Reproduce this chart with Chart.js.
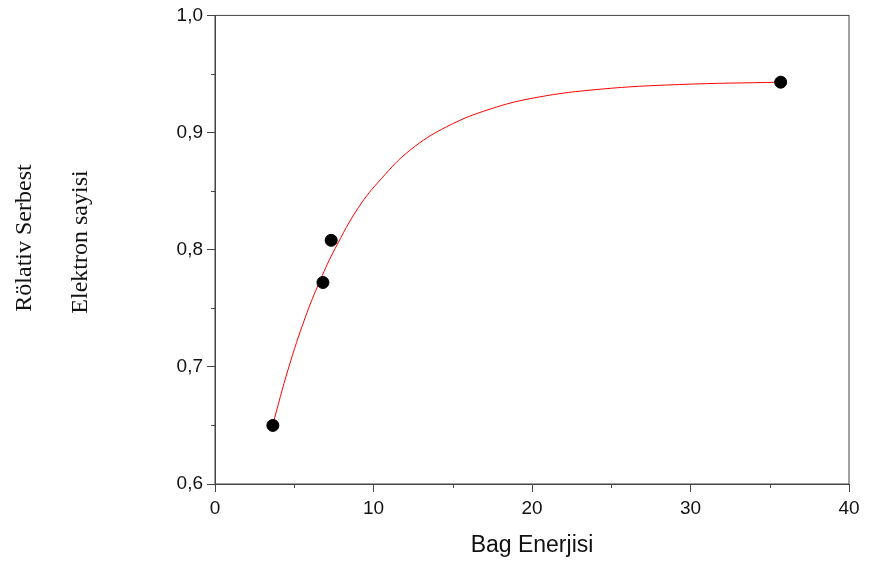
<!DOCTYPE html>
<html lang="tr">
<head>
  <meta charset="UTF-8" />
  <title>Bag Enerjisi</title>
  <script src="https://cdn.jsdelivr.net/npm/chart.js"></script>
  <style>
    body { margin: 0; background: #fff; }
    canvas { display: block; }
  </style>
</head>
<body>
  <canvas id="chart" width="869" height="570"></canvas>

  <script>
    // measured points
    const pointX = [3.65, 6.81, 7.33, 35.69];
    const pointY = [0.650, 0.772, 0.808, 0.943];

    // fitted curve
    const curveX = [3.63, 4.64, 5.69, 6.64, 7.58, 9.05, 10.52, 12.31, 14.62, 17.35, 20.3, 24.3, 29.3, 35.69];
    const curveY = [0.650, 0.699, 0.742, 0.774, 0.801, 0.836, 0.861, 0.885, 0.905, 0.920, 0.930, 0.937, 0.941, 0.943];

    const xTicks = [0, 10, 20, 30, 40];
    const xMinor = [5, 15, 25, 35];
    const yTicks = [0.6, 0.7, 0.8, 0.9, 1.0];
    const yMinor = [0.65, 0.75, 0.85, 0.95];

    const yTitle = ['Rölativ Serbest', 'Elektron sayisi'];
    const xTitle = 'Bag Enerjisi';

    const axisColor = '#444';

    const decor = {
      id: 'decor',
      afterDraw(chart) {
        const { ctx, chartArea: a, scales } = chart;
        ctx.save();
        ctx.strokeStyle = axisColor;
        ctx.lineWidth = 1;
        ctx.strokeRect(a.left, a.top, a.right - a.left, a.bottom - a.top);
        // minor ticks
        ctx.beginPath();
        xMinor.forEach(v => {
          const px = Math.round(scales.x.getPixelForValue(v)) + 0.5;
          ctx.moveTo(px, a.bottom);
          ctx.lineTo(px, a.bottom + 4);
        });
        yMinor.forEach(v => {
          const py = Math.round(scales.y.getPixelForValue(v)) + 0.5;
          ctx.moveTo(a.left, py);
          ctx.lineTo(a.left - 4, py);
        });
        ctx.stroke();

        // titles
        ctx.fillStyle = '#111';
        ctx.font = '23px "Liberation Sans", Arial, sans-serif';
        ctx.textAlign = 'center';
        ctx.textBaseline = 'alphabetic';
        ctx.fillText(xTitle, (a.left + a.right) / 2, 552);

        ctx.font = '24px "Liberation Serif", "Times New Roman", serif';
        [[31, 238], [87, 242]].forEach(([x, cy], i) => {
          ctx.save();
          ctx.translate(x, cy);
          ctx.rotate(-Math.PI / 2);
          ctx.fillText(yTitle[i], 0, 0);
          ctx.restore();
        });
        ctx.restore();
      }
    };

    const tickFont = { family: '"Liberation Sans", Arial, sans-serif', size: 19 };

    new Chart(document.getElementById('chart'), {
      type: 'scatter',
      data: {
        datasets: [
          {
            type: 'line',
            data: curveX.map((x, i) => ({ x, y: curveY[i] })),
            borderColor: '#ff0000',
            borderWidth: 1,
            pointRadius: 0,
            tension: 0.4,
            fill: false,
            order: 2
          },
          {
            data: pointX.map((x, i) => ({ x, y: pointY[i] })),
            backgroundColor: '#000',
            borderColor: '#000',
            pointRadius: 6,
            pointHoverRadius: 6,
            order: 1
          }
        ]
      },
      options: {
        responsive: false,
        animation: false,
        layout: { padding: { left: 0, top: 14, right: 20, bottom: 0 } },
        plugins: {
          legend: { display: false },
          tooltip: { enabled: false }
        },
        scales: {
          x: {
            type: 'linear',
            min: 0,
            max: 40,
            afterFit: s => { s.height = 86; },
            afterBuildTicks: s => { s.ticks = xTicks.map(v => ({ value: v })); },
            grid: { drawOnChartArea: false, tickLength: 8, color: axisColor },
            border: { color: axisColor },
            ticks: { font: tickFont, color: '#111', padding: 5, maxRotation: 0 }
          },
          y: {
            min: 0.6,
            max: 1.0,
            afterFit: s => { s.width = 215; },
            afterBuildTicks: s => { s.ticks = yTicks.map(v => ({ value: v })); },
            grid: { drawOnChartArea: false, tickLength: 8, color: axisColor },
            border: { color: axisColor },
            ticks: {
              font: tickFont,
              color: '#111',
              padding: 4,
              callback: v => v.toFixed(1).replace('.', ',')
            }
          }
        }
      },
      plugins: [decor]
    });
  </script>
</body>
</html>
